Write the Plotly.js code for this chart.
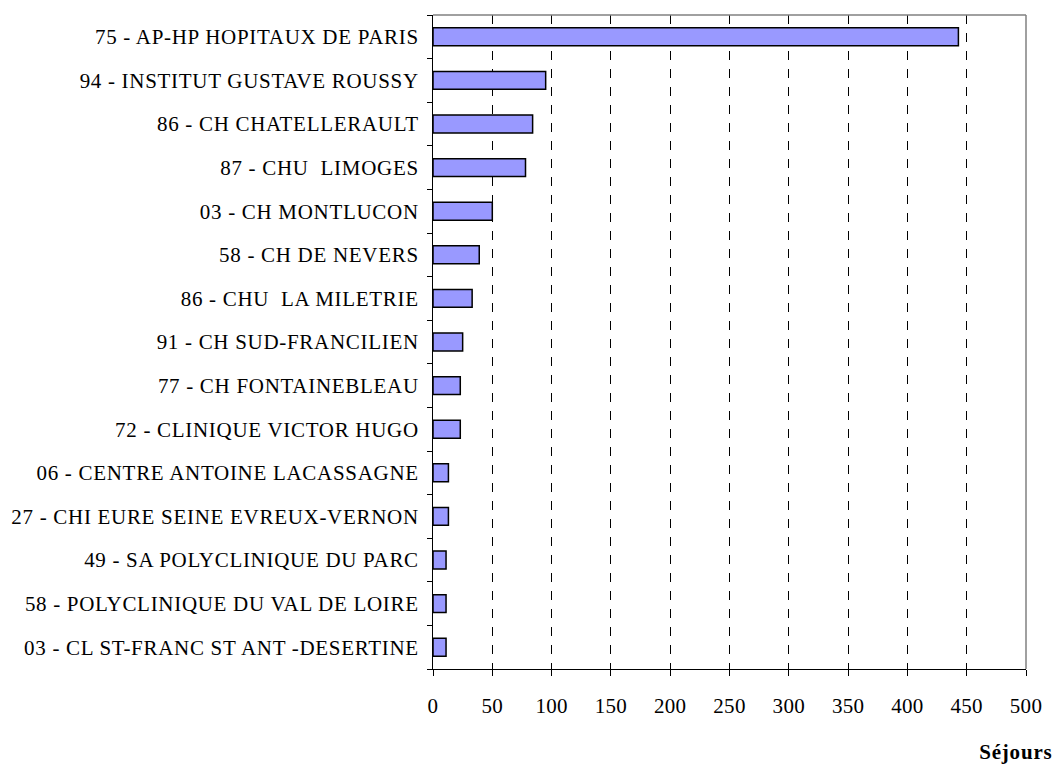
<!DOCTYPE html>
<html>
<head>
<meta charset="utf-8">
<script src="https://cdn.plot.ly/plotly-3.0.1.min.js"></script>
<style>
html,body{margin:0;padding:0;background:#fff;}
#chart{width:1061px;height:769px;}
#chart .ytick text{letter-spacing:0.7px;}
#chart .xtick text{letter-spacing:0.3px;}
#chart .annotation-text{letter-spacing:0.8px;}
</style>
</head>
<body>
<div id="chart"></div>
<script>
const etablissements = [
  "75 - AP-HP HOPITAUX DE PARIS",
  "94 - INSTITUT GUSTAVE ROUSSY",
  "86 - CH CHATELLERAULT",
  "87 - CHU  LIMOGES",
  "03 - CH MONTLUCON",
  "58 - CH DE NEVERS",
  "86 - CHU  LA MILETRIE",
  "91 - CH SUD-FRANCILIEN",
  "77 - CH FONTAINEBLEAU",
  "72 - CLINIQUE VICTOR HUGO",
  "06 - CENTRE ANTOINE LACASSAGNE",
  "27 - CHI EURE SEINE EVREUX-VERNON",
  "49 - SA POLYCLINIQUE DU PARC",
  "58 - POLYCLINIQUE DU VAL DE LOIRE",
  "03 - CL ST-FRANC ST ANT -DESERTINE"
];
const sejours = [443, 95, 84, 78, 50, 39, 33, 25, 23, 23, 13, 13, 11, 11, 11];
const xTicks = [0, 50, 100, 150, 200, 250, 300, 350, 400, 450, 500];
const xTitle = "Séjours";

const font = "'Liberation Serif', 'Times New Roman', serif";

const trace = {
  type: 'bar',
  orientation: 'h',
  x: sejours,
  y: etablissements,
  marker: {color: '#9999FF', line: {color: '#000000', width: 1.5}},
  hoverinfo: 'x+y'
};

const layout = {
  width: 1061, height: 769,
  margin: {l: 433, r: 35, t: 15, b: 100},
  paper_bgcolor: '#ffffff', plot_bgcolor: '#ffffff',
  showlegend: false,
  bargap: 0.59,
  font: {family: font, size: 21, color: '#000'},
  xaxis: {
    range: [0, 500],
    tickvals: xTicks,
    ticktext: xTicks.map(String),
    showgrid: true, gridcolor: '#000000', griddash: 'dash', gridwidth: 1,
    zeroline: false,
    showline: true, linecolor: '#000000', linewidth: 1,
    mirror: false,
    ticks: 'outside', ticklen: 6, tickcolor: '#000', tickwidth: 1,
    ticklabelstandoff: 12,
    tickfont: {family: font, size: 21, color: '#000'}
  },
  yaxis: {
    type: 'category',
    categoryorder: 'array',
    categoryarray: etablissements.slice().reverse(),
    autorange: false,
    range: [-0.5, etablissements.length - 0.5],
    tickson: 'boundaries',
    ticks: 'outside', ticklen: 5, tickcolor: '#000', tickwidth: 1,
    ticklabelstandoff: 9,
    showgrid: false, zeroline: false,
    showline: true, linecolor: '#000000', linewidth: 1,
    tickfont: {family: font, size: 21, color: '#000'}
  },
  shapes: [
    {type: 'line', xref: 'paper', yref: 'paper', x0: 0, x1: 1, y0: 1, y1: 1, line: {color: '#808080', width: 1.5}},
    {type: 'line', xref: 'paper', yref: 'paper', x0: 1, x1: 1, y0: 0, y1: 1, line: {color: '#808080', width: 1.5}}
  ],
  annotations: [{
    text: '<b>' + xTitle + '</b>',
    xref: 'paper', yref: 'paper', x: 1.044, y: -0.127,
    xanchor: 'right', yanchor: 'middle', showarrow: false,
    font: {family: font, size: 21, color: '#000'}
  }]
};

Plotly.newPlot('chart', [trace], layout, {displayModeBar: false, staticPlot: true});
</script>
</body>
</html>
